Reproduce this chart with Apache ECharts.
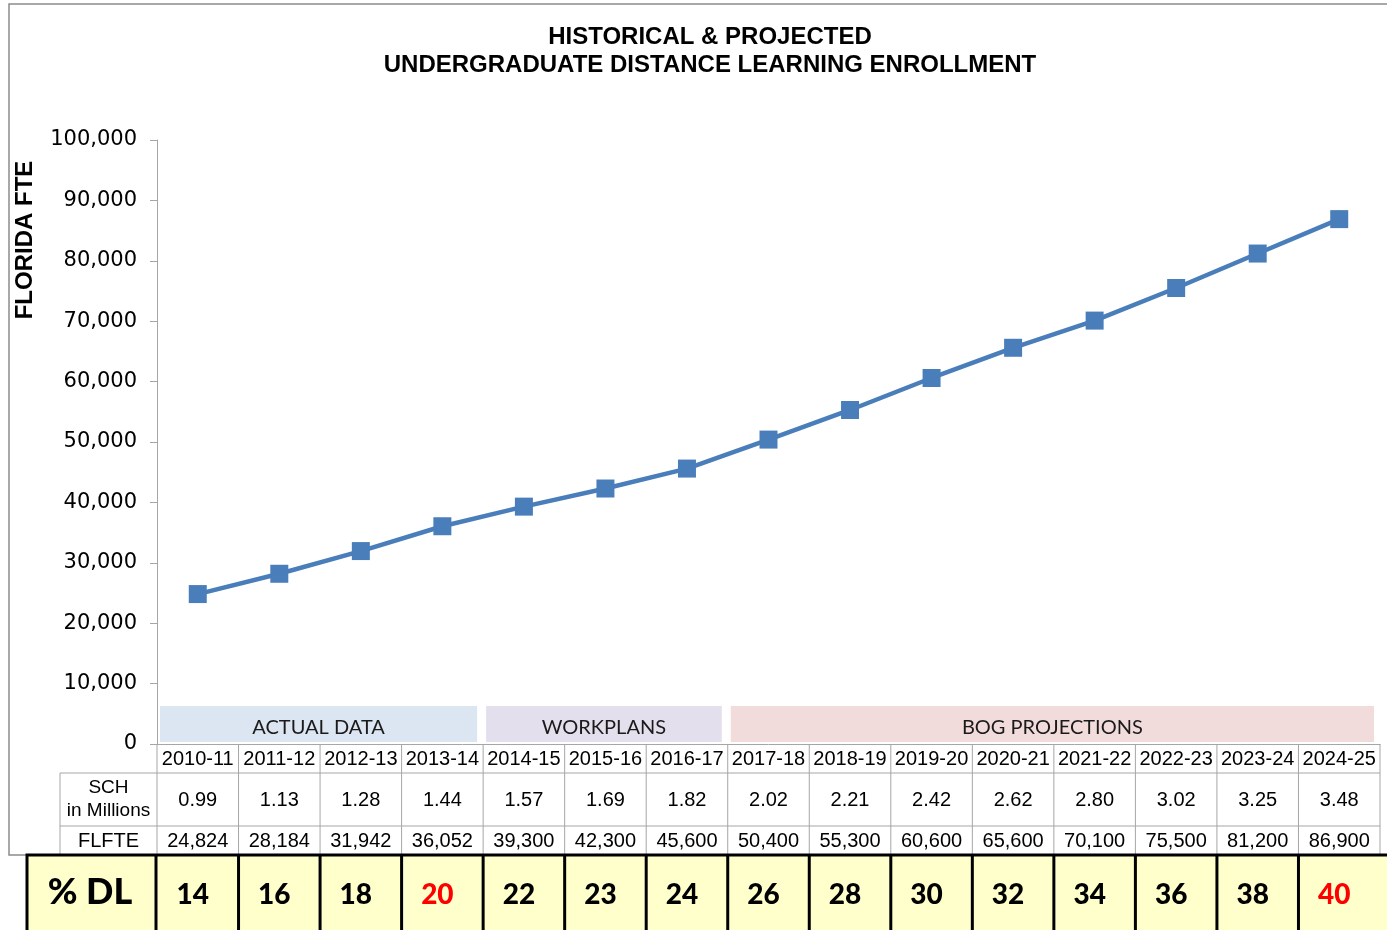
<!DOCTYPE html>
<html>
<head>
<meta charset="utf-8">
<script src="https://cdn.jsdelivr.net/npm/echarts@6/dist/echarts.min.js"></script>
<style>
html, body { margin: 0; padding: 0; background: #fff; }
#plot { width: 1387px; height: 930px; }
</style>
</head>
<body>
<div id="plot"></div>
<script>
// chart data
const years = ['2010-11', '2011-12', '2012-13', '2013-14', '2014-15', '2015-16', '2016-17', '2017-18',
    '2018-19', '2019-20', '2020-21', '2021-22', '2022-23', '2023-24', '2024-25'];
const flfte = [24824, 28184, 31942, 36052, 39300, 42300, 45600, 50400, 55300, 60600, 65600, 70100, 75500, 81200, 86900];
const schMillions = ['0.99', '1.13', '1.28', '1.44', '1.57', '1.69', '1.82', '2.02', '2.21', '2.42', '2.62', '2.80', '3.02', '3.25', '3.48'];
const pctDL = [14, 16, 18, 20, 22, 23, 24, 26, 28, 30, 32, 34, 36, 38, 40];
const pctDLRed = ['2013-14', '2024-25'];
const phaseNames = ['ACTUAL DATA', 'WORKPLANS', 'BOG PROJECTIONS'];
const phaseFirst = ['2010-11', '2014-15', '2017-18'];
const phaseLast = ['2013-14', '2016-17', '2024-25'];
const yMin = 0, yMax = 100000, yStep = 10000;

// styles
const phaseColors = ['#dce6f2', '#e4dfec', '#f2dcdb'];
const lineColor = '#4a7ebb';
const gridGray = '#a6a6a6';
const arial = '"Liberation Sans", Arial, sans-serif';

const chart = echarts.init(document.getElementById('plot'));
chart.setOption({
    animation: false,
    title: {
        text: 'HISTORICAL & PROJECTED\nUNDERGRADUATE DISTANCE LEARNING ENROLLMENT',
        left: 705,
        top: 18,
        textAlign: 'center',
        textStyle: { fontFamily: arial, fontSize: 24, fontWeight: 'bold', color: '#000', lineHeight: 28 }
    },
    grid: { left: 157, right: 7, top: 140, bottom: 186, containLabel: false },
    xAxis: {
        type: 'category',
        data: years,
        boundaryGap: true,
        axisLine: { lineStyle: { color: gridGray, width: 1 } },
        axisTick: { show: false },
        axisLabel: { interval: 0, margin: 5, fontFamily: arial, fontSize: 20, color: '#000' }
    },
    yAxis: {
        type: 'value',
        min: yMin,
        max: yMax,
        interval: yStep,
        splitLine: { show: false },
        axisLine: { show: true, lineStyle: { color: gridGray, width: 1 } },
        axisTick: { show: true, length: 7, lineStyle: { color: gridGray } },
        axisLabel: {
            margin: 20,
            fontFamily: '"DejaVu Sans", sans-serif',
            fontSize: 21,
            color: '#000',
            formatter: v => v.toLocaleString('en-US')
        }
    },
    series: [{
        type: 'line',
        data: flfte,
        symbol: 'rect',
        symbolSize: 18,
        lineStyle: { color: lineColor, width: 4.5 },
        itemStyle: { color: lineColor }
    }]
});

// table + phase bands, placed through the axis scales
const cx = years.map(y => chart.convertToPixel({ xAxisIndex: 0 }, y));
const colW = cx[1] - cx[0];
const colL = i => cx[i] - colW / 2;
const colR = i => cx[i] + colW / 2;
const yZero = chart.convertToPixel({ yAxisIndex: 0 }, 0);
const tableRight = colR(years.length - 1);
const rowHdrBottom = yZero + 29;
const rowSchBottom = rowHdrBottom + 53;
const rowFteBottom = rowSchBottom + 29;
const labelColX = 60;

const g = [];
// outer frame
g.push({ type: 'rect', z: 0, shape: { x: 9, y: 4, width: 1400, height: rowFteBottom - 4 },
    style: { fill: null, stroke: '#8c8c8c', lineWidth: 1.5 } });

// phase bands
phaseNames.forEach((name, k) => {
    const a = years.indexOf(phaseFirst[k]);
    const b = years.indexOf(phaseLast[k]);
    const x1 = colL(a) + 3, x2 = colR(b) - 6;
    g.push({ type: 'rect', z: 1, shape: { x: x1, y: yZero - 38, width: x2 - x1, height: 36 },
        style: { fill: phaseColors[k] } });
    g.push({ type: 'text', z: 2, x: (x1 + x2) / 2, y: yZero - 16,
        style: { text: name, fill: '#1a1a1a', font: '20px Lato, "Open Sans", sans-serif', align: 'center', verticalAlign: 'middle' } });
});

// table grid lines
const hline = (y, x1, x2, color, w, z) => g.push({ type: 'line', z: z || 3, shape: { x1, y1: y, x2, y2: y },
    style: { stroke: color, lineWidth: w } });
const vline = (x, y1, y2, color, w, z) => g.push({ type: 'line', z: z || 3, shape: { x1: x, y1, x2: x, y2 },
    style: { stroke: color, lineWidth: w } });
hline(rowHdrBottom, labelColX, tableRight, gridGray, 1);
hline(rowSchBottom, labelColX, tableRight, gridGray, 1);
vline(labelColX, rowHdrBottom, rowFteBottom, gridGray, 1);
vline(colL(0), yZero, rowFteBottom, gridGray, 1);
years.forEach((y, i) => vline(colR(i), yZero, rowFteBottom, gridGray, 1));

// table text
const cell = (x, y, text, font, color) => g.push({ type: 'text', z: 4, x, y,
    style: { text, fill: color || '#000', font, align: 'center', verticalAlign: 'middle', lineHeight: 23 } });
const labelX = (labelColX + colL(0)) / 2;
cell(labelX, (rowHdrBottom + rowSchBottom) / 2, 'SCH\nin Millions', '19px ' + arial);
cell(labelX, (rowSchBottom + rowFteBottom) / 2 + 1, 'FLFTE', '20px ' + arial);
years.forEach((y, i) => {
    cell(cx[i], (rowHdrBottom + rowSchBottom) / 2 + 1, schMillions[i], '20px ' + arial);
    cell(cx[i], (rowSchBottom + rowFteBottom) / 2 + 1, flfte[i].toLocaleString('en-US'), '20px ' + arial);
});

// % DL row
const dlTop = rowFteBottom;
g.push({ type: 'rect', z: 5, shape: { x: 27, y: dlTop, width: 1400, height: 100 },
    style: { fill: '#ffffcc', stroke: '#000', lineWidth: 3 } });
vline(colL(0) - 1, dlTop, 930, '#000', 3, 6);
years.forEach((y, i) => { if (i < years.length - 1) vline(colR(i), dlTop, 930, '#000', 3, 6); });
g.push({ type: 'text', z: 7, x: 90, y: dlTop + 37,
    style: { text: '% DL', fill: '#000', font: '900 36px Lato, "Noto Sans", sans-serif', align: 'center', verticalAlign: 'middle' } });
years.forEach((y, i) => {
    g.push({ type: 'text', z: 7, x: cx[i] - 5, y: dlTop + 40,
        style: { text: String(pctDL[i]), fill: pctDLRed.includes(y) ? '#ff0000' : '#000',
            font: '900 28px Lato, "Noto Sans", sans-serif', align: 'center', verticalAlign: 'middle' } });
});

// y axis name
g.push({ type: 'text', z: 4, x: 25, y: 240, rotation: Math.PI / 2,
    style: { text: 'FLORIDA FTE', fill: '#000', font: 'bold 24px ' + arial, align: 'center', verticalAlign: 'middle' } });

chart.setOption({ graphic: { elements: g } });
</script>
</body>
</html>
